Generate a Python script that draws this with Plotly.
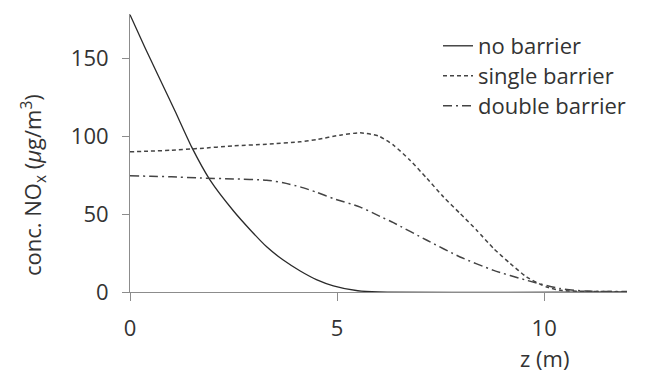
import plotly.graph_objects as go

# distance behind barrier (m)
z_none = [0, 0.36, 0.68, 1.09, 1.49, 1.93, 2.5, 2.9, 3.3, 3.7, 4.11, 4.5, 4.91, 5.5, 6.0, 12]
c_none = [178, 157, 139, 116, 93, 72, 52, 40, 29, 20.5, 13.5, 8, 4, 0.8, 0, 0]

z_single = [0, 0.5, 1.0, 1.69, 2.5, 3.3, 4.11, 4.51, 5.07, 5.56, 6.0, 6.36, 6.76,
            7.17, 7.57, 7.97, 8.37, 8.78, 9.18, 9.58, 10.06, 10.39, 11.0, 12]
c_single = [90, 90.5, 91, 92.2, 93.8, 94.9, 96.4, 97.9, 100.7, 102.2, 100.2, 94.3, 84.6,
            72.9, 61, 50.4, 39.7, 27.9, 18.3, 9.6, 3.2, 1.1, 0.4, 0.2]

z_double = [0, 0.5, 1.0, 1.69, 2.5, 3.3, 3.7, 4.11, 4.51, 4.91, 5.56, 6.04, 6.36,
            7.17, 7.97, 8.78, 9.58, 10.39, 11.0, 12]
c_double = [74.6, 74.3, 74, 73.2, 72.6, 71.8, 70.1, 67.5, 64, 60, 54.5, 48.5, 44.5,
            33.2, 22.5, 13.9, 7.5, 2.2, 0.6, 0.3]

names = ["no barrier", "single barrier", "double barrier"]
x_ticks = [0, 5, 10]
y_ticks = [0, 50, 100, 150]

FONT = "Open Sans"
FS = 22
TXT = "#333333"
AX = "#8c8c8c"

fig = go.Figure()
fig.add_trace(go.Scatter(x=z_none, y=c_none, name=names[0], mode="lines", legend="legend",
                         line=dict(color="#2a2a2a", width=1.3, shape="spline", smoothing=0.6)))
fig.add_trace(go.Scatter(x=z_single, y=c_single, name=names[1], mode="lines", legend="legend2",
                         line=dict(color="#444444", width=1.5, dash="4px,3px", shape="spline", smoothing=0.6)))
fig.add_trace(go.Scatter(x=z_double, y=c_double, name=names[2], mode="lines", legend="legend3",
                         line=dict(color="#444444", width=1.5, dash="9px,4px,2px,4px", shape="spline", smoothing=0.6)))


def leg(ypix):
    return dict(x=(438 - 130) / 497, y=(292 - ypix) / 278, xanchor="left", yanchor="middle",
                bgcolor="rgba(0,0,0,0)", font=dict(family=FONT, size=FS, color=TXT),
                itemwidth=30)


fig.update_layout(
    width=649, height=376,
    margin=dict(l=130, r=22, t=14, b=84),
    paper_bgcolor="white", plot_bgcolor="white",
    font=dict(family=FONT, size=FS, color=TXT),
    showlegend=True,
    legend=leg(46), legend2=leg(76), legend3=leg(106),
    xaxis=dict(range=[0, 12], tickvals=x_ticks, showgrid=False, zeroline=False,
               showline=True, linecolor=AX, linewidth=1,
               ticks="outside", ticklen=8, tickcolor=AX, tickwidth=1,
               ticklabelstandoff=9, tickfont=dict(family=FONT, size=FS, color=TXT)),
    yaxis=dict(range=[0, 178.5], tickvals=y_ticks, showgrid=False, zeroline=False,
               showline=True, linecolor=AX, linewidth=1,
               ticks="outside", ticklen=7, tickcolor=AX, tickwidth=1,
               ticklabelstandoff=9, tickfont=dict(family=FONT, size=FS, color=TXT)),
    annotations=[
        dict(text="conc. NO<sub>x</sub> (<i>μ</i>g/m<sup>3</sup>)", textangle=-90,
             xref="paper", yref="paper", x=(33 - 130) / 497, y=(292 - 185) / 278,
             xanchor="center", yanchor="middle", showarrow=False,
             font=dict(family=FONT, size=FS, color=TXT)),
        dict(text="z (m)", xref="paper", yref="paper",
             x=(544 - 130) / 497, y=(292 - 358) / 278,
             xanchor="center", yanchor="middle", showarrow=False,
             font=dict(family=FONT, size=FS, color=TXT)),
    ],
)

fig.write_html("out.html")
